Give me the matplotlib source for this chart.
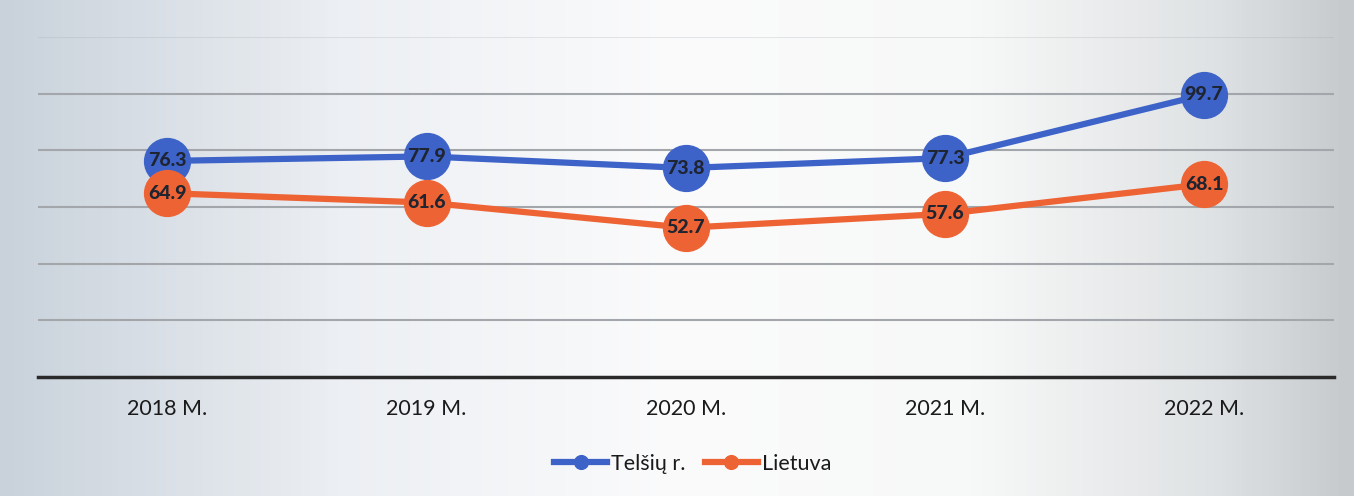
import numpy as np
import matplotlib
matplotlib.use('Agg')
import matplotlib.pyplot as plt
from matplotlib.colors import LinearSegmentedColormap

years = ['2018 M.', '2019 M.', '2020 M.', '2021 M.', '2022 M.']
telsiai = [76.3, 77.9, 73.8, 77.3, 99.7]
lietuva = [64.9, 61.6, 52.7, 57.6, 68.1]
series_names = ['Telšių r.', 'Lietuva']

blue = '#3d63c9'
orange = '#ee6334'
plt.rcParams['font.family'] = ['Lato', 'DejaVu Sans']

fig = plt.figure(figsize=(13.54, 4.96), dpi=100)

# scanned-paper style background gradient
bg = fig.add_axes([0, 0, 1, 1], zorder=0)
cmap = LinearSegmentedColormap.from_list(
    'scan', [(0, '#c9d2db'), (0.25, '#eceff3'), (0.5, '#fbfbfc'),
             (0.72, '#f7f8f8'), (0.9, '#dfe2e4'), (1, '#c6cacd')])
bg.imshow(np.linspace(0, 1, 400)[None, :], aspect='auto', cmap=cmap,
          extent=[0, 1, 0, 1])
bg.axis('off')

ax = fig.add_axes([0.028, 0.24, 0.957, 0.685], zorder=1)
ax.patch.set_alpha(0)
x = np.arange(len(years))

ax.plot(x, telsiai, color=blue, lw=4.5, marker='o', ms=33,
        label=series_names[0], zorder=3)
ax.plot(x, lietuva, color=orange, lw=4.5, marker='o', ms=33,
        label=series_names[1], zorder=3)

for xi, v in zip(x, telsiai):
    ax.text(xi, v, f'{v:.1f}', ha='center', va='center', fontsize=14,
            fontweight='black', color='#1e2430', zorder=4)
for xi, v in zip(x, lietuva):
    ax.text(xi, v, f'{v:.1f}', ha='center', va='center', fontsize=14,
            fontweight='black', color='#1e2430', zorder=4)

ax.set_xlim(-0.5, len(years) - 0.5)
ax.set_ylim(0, 120)
ax.set_yticks([20, 40, 60, 80, 100, 120])
ax.yaxis.grid(True, color='#a3a7ab', lw=1.5)
ax.get_ygridlines()[-1].set_alpha(0.25)
ax.set_axisbelow(True)
ax.tick_params(axis='y', left=False, labelleft=False)
ax.tick_params(axis='x', length=0, pad=16, labelsize=15.5, labelcolor='#1a1a1a')
ax.set_xticks(x)
ax.set_xticklabels(years)
for s in ['top', 'right', 'left']:
    ax.spines[s].set_visible(False)
ax.spines['bottom'].set_color('#2a2a2a')
ax.spines['bottom'].set_linewidth(2.5)

leg = ax.legend(loc='center', bbox_to_anchor=(0.505, -0.255), ncol=2,
                frameon=False, fontsize=15.5, markerscale=0.3,
                handlelength=2.5, handletextpad=0.15, columnspacing=0.9)
for t in leg.get_texts():
    t.set_color('#1a1a1a')

fig.savefig('out.png', dpi=100)
